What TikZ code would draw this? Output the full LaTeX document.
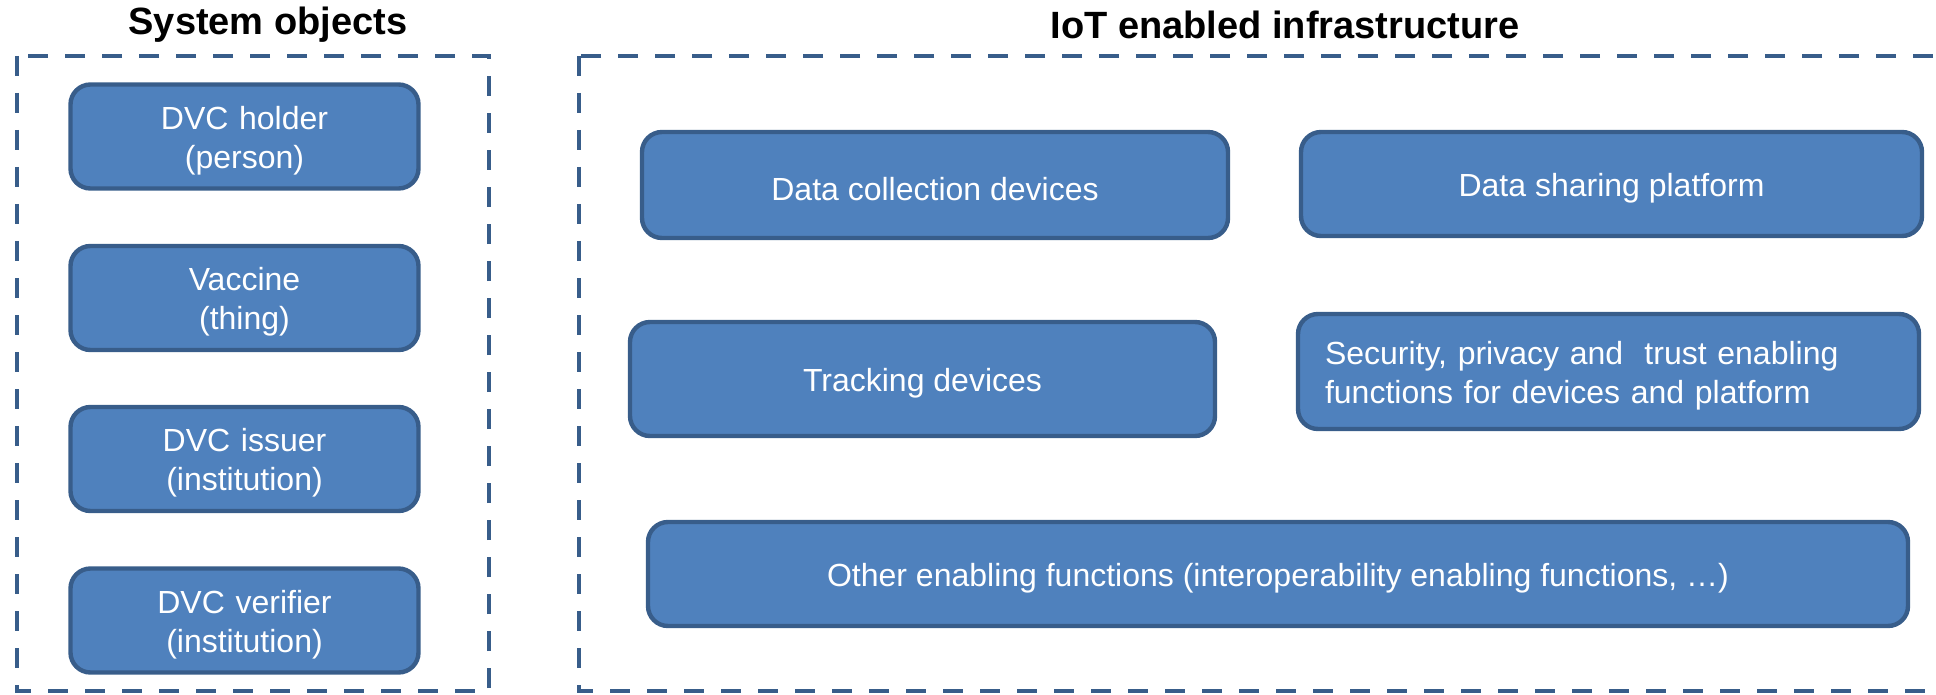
\documentclass[tikz,border=0pt]{standalone}
\usepackage{fontspec}
\setmainfont{Liberation Sans}
\usepackage{xcolor}
\usepackage{tikz}

\definecolor{boxfill}{HTML}{4F81BD}
\definecolor{boxline}{HTML}{385D8A}

\begin{document}
\begin{tikzpicture}[x=0.5pt,y=-0.5pt]
        % Define the styles for the blocks, the dashed frames and the headings
        % (the strut at the start of a block pushes its text a bit lower)
        \tikzset{
            block/.style={draw=boxline, line width=2.2pt, fill=boxfill, rounded corners=10pt,
                text=white, font=\fontsize{16}{19.5}\selectfont, align=center, inner sep=0pt,
                execute at begin node=\rule{0pt}{15.5pt}},
            objblock/.style={block, minimum width=174pt, minimum height=52pt, text width=170pt},
            frame/.style={draw=boxline, line width=2pt, dash pattern=on 10pt off 8.5pt},
            heading/.style={font=\fontsize{19}{23}\selectfont\bfseries, text=black},
        }

        % Page size, the right frame runs off the edge
        \useasboundingbox (0,0) rectangle (1936,695);
        \clip (0,0) rectangle (1936,695);

        % Draw the two dashed frames
        \draw[frame] (17,56) rectangle (489,691);
        \draw[frame] (579,56) rectangle (1990,691);

        % Headings above the frames
        \node[heading] (objtitle) at (268,25) {System objects};
        \node[heading] (iottitle) at (1285,25) {IoT enabled infrastructure};

        % System objects column
        \node[objblock] (holder) at (244.5,136.5) {DVC holder\\(person)};
        \node[objblock] (vaccine) at (244.5,298) {Vaccine\\(thing)};
        \node[objblock] (issuer) at (244.5,459) {DVC issuer\\(institution)};
        \node[objblock] (verifier) at (244.5,620.5) {DVC verifier\\(institution)};

        % IoT enabled infrastructure blocks
        \node[block, minimum width=293pt, minimum height=53pt] (collect) at (935,185) {Data collection devices};
        \node[block, minimum width=310.5pt, minimum height=52pt] (sharing) at (1611.5,184) {Data sharing platform};
        \node[block, minimum width=292.5pt, minimum height=57pt] (tracking) at (922.5,379) {Tracking devices};
        \node[block, minimum width=310.5pt, minimum height=57.5pt, text width=283.5pt, align=left] (security) at (1608.5,371.5)
            {Security, privacy and~ trust enabling functions for devices and platform};
        \node[block, minimum width=630pt, minimum height=52pt] (other) at (1278,574)
            {Other enabling functions (interoperability enabling functions, …)};

    \end{tikzpicture}
\end{document}
